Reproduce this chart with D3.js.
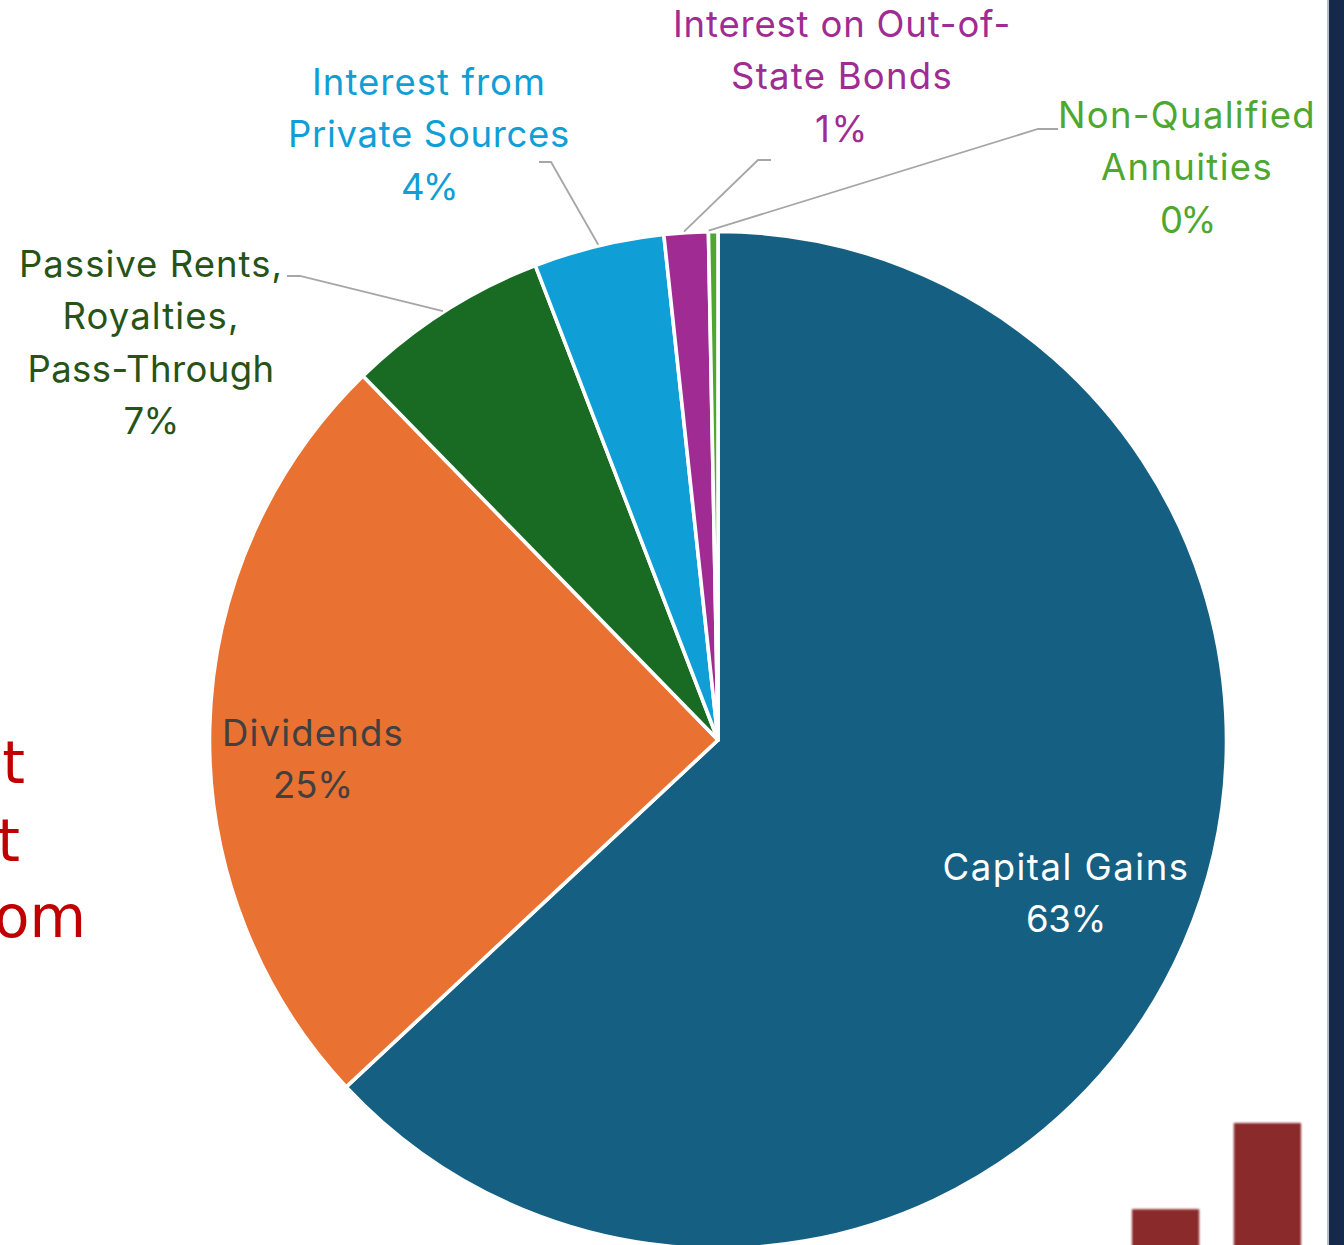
<!DOCTYPE html>
<html><head><meta charset="utf-8">
<script src="https://cdn.jsdelivr.net/npm/d3@7/dist/d3.min.js"></script>
<style>html,body{margin:0;padding:0;background:#fff;overflow:hidden}svg{display:block}</style>
</head><body><svg id="c" width="1344" height="1245"></svg>
<script>
const categories = ["Capital Gains","Dividends","Passive Rents, Royalties, Pass-Through","Interest from Private Sources","Interest on Out-of-State Bonds","Non-Qualified Annuities"];
const shares = [63.05,24.65,6.45,4.15,1.4,0.3];
const percentLabels = ["63%","25%","7%","4%","1%","0%"];
const labelLines = [["Capital Gains"],["Dividends"],["Passive Rents,","Royalties,","Pass-Through"],["Interest from","Private Sources"],["Interest on Out-of-","State Bonds"],["Non-Qualified","Annuities"]];
const sliceColors = ["#156082","#E97132","#196B24","#0F9ED5","#A02B93","#4EA72E"];
const textColors = ["#ffffff","#404040","#275317","#0F9ED5","#A02B93","#4EA72E"];
const labelCenterX = [1066,313,151,429,842,1187];
const labelFirstBaseline = [880,746,277,95,37,128];
const lineWidths = [[247],[182],[264,177,247],[234,282],[338,222],[258,172]];
const percentWidths = [80,80,55,56,54,54];
const elbows = [null,null,[[300,276],[287,276]],[[551,162],[539,162]],[[758,160],[771,160]],[[1038,129],[1058,129]]];
const backdropWords = ["st","t","om"];
const backdropBars = [1,2.27];

const svg = d3.select("#c");
const cx=718, cy=740, R=508.5;
const font = "Inter, 'Noto Sans', sans-serif";

const defs = svg.append("defs");
defs.append("filter").attr("id","soft").attr("x","-5%").attr("y","-5%").attr("width","110%").attr("height","110%")
  .append("feGaussianBlur").attr("stdDeviation",0.8);

// backdrop: partial text cut off at left
svg.append("g").selectAll("text").data(backdropWords).join("text")
  .attr("x",(d,i)=>[25,20,86][i]).attr("y",(d,i)=>[783,861,937][i])
  .attr("text-anchor","end").attr("fill","#C00000")
  .attr("font-family","'DejaVu Sans', sans-serif").attr("font-size",58).text(d=>d);

// backdrop: bars
const bx = d3.scaleBand().domain(d3.range(backdropBars.length)).range([1132,1301]).paddingInner(0.34);
const by = d3.scaleLinear().domain([0,backdropBars[1]]).range([1277,1123]);
svg.append("g").attr("filter","url(#soft)").selectAll("rect").data(backdropBars).join("rect")
  .attr("x",(d,i)=>bx(i)).attr("width",bx.bandwidth())
  .attr("y",d=>by(d)).attr("height",d=>1277-by(d)).attr("fill","#8B2C2C");

// navy edge
svg.append("rect").attr("x",1327).attr("y",0).attr("width",2).attr("height",1245).attr("fill","#b8bcc4");
svg.append("rect").attr("x",1329).attr("y",0).attr("width",15).attr("height",1245).attr("fill","#15294B");

const pie = d3.pie().sort(null).value(d=>d)(shares);
const arc = d3.arc().innerRadius(0).outerRadius(R);
const g = svg.append("g").attr("transform",`translate(${cx},${cy})`);
g.selectAll("path").data(pie).join("path")
  .attr("d",arc).attr("fill",(d,i)=>sliceColors[i])
  .attr("stroke","#fff").attr("stroke-width",3.6).attr("stroke-linejoin","round");

// leaders
const line = d3.line();
svg.append("g").selectAll("path").data(pie).join("path")
  .filter((d,i)=>elbows[i])
  .attr("fill","none").attr("stroke","#A6A6A6").attr("stroke-width",1.8)
  .attr("d",(d)=>{
    const i=d.index, a=(d.startAngle+d.endAngle)/2 - (i===5?0.009:0) - (i===4?0.004:0);
    const r=R+1;
    return line([[cx+r*Math.sin(a),cy-r*Math.cos(a)],...elbows[i]]);
  });

// labels: each line gets the tracking that brings it to its read width
const lh=52.3;
const labels = svg.append("g").attr("font-family",font).attr("font-size",36.5).attr("text-anchor","middle");
function addLine(i, str, y, w){
  const t = labels.append("text").attr("fill",textColors[i]).attr("x",labelCenterX[i]).attr("y",y).text(str);
  const natural = t.node().getComputedTextLength();
  t.attr("letter-spacing",(w-natural)/str.length);
}
categories.forEach((c,i)=>{
  labelLines[i].forEach((s,k)=>addLine(i,s,labelFirstBaseline[i]+k*lh,lineWidths[i][k]));
  addLine(i,percentLabels[i],labelFirstBaseline[i]+labelLines[i].length*lh,percentWidths[i]);
});
</script></body></html>
